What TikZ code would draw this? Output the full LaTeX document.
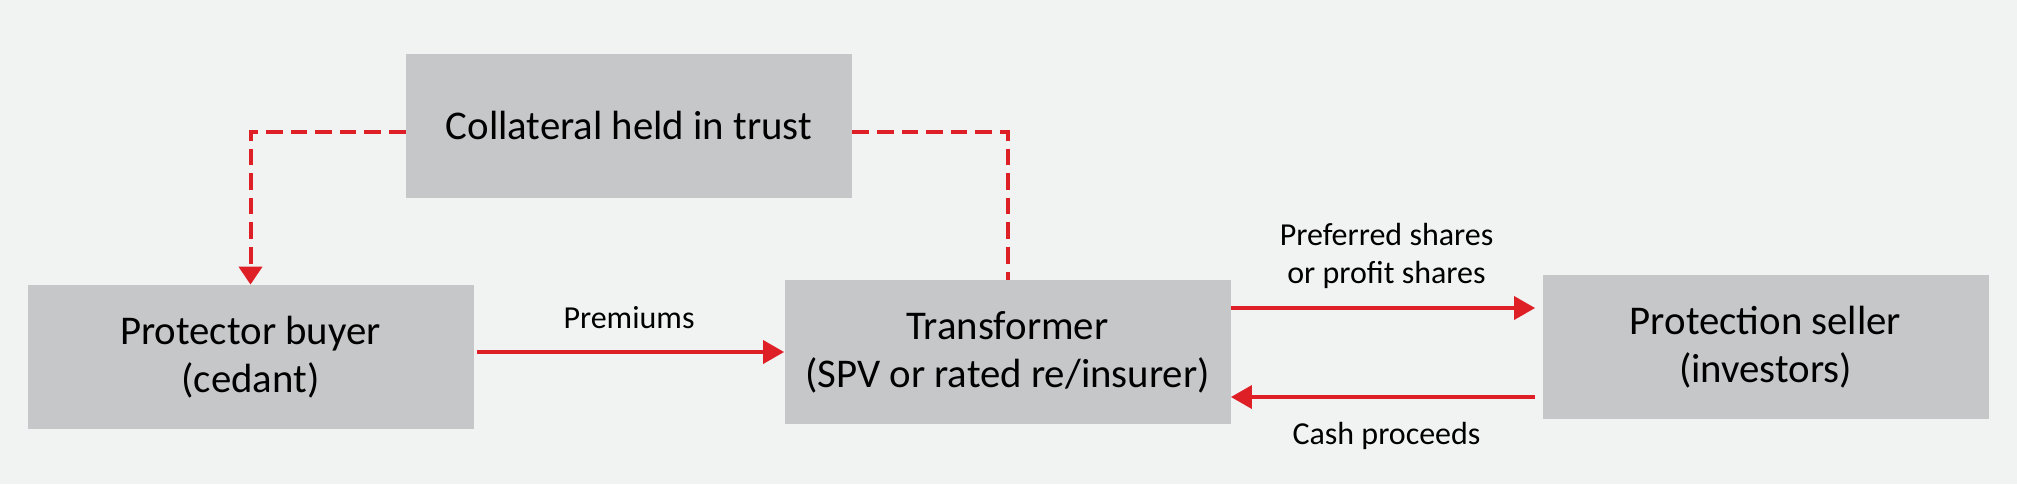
\documentclass[tikz,border=0pt]{standalone}
\usepackage{fontspec}
\setmainfont{Carlito}
\usepackage{tikz}
\usetikzlibrary{arrows.meta}
\definecolor{bggray}{HTML}{F1F2F2}
\definecolor{boxgray}{HTML}{C6C7C8}
\definecolor{flowred}{HTML}{DF1F26}
\tikzset{
  party/.style={fill=boxgray, minimum width=223pt, minimum height=72pt, inner sep=0pt, align=center, font=\fontsize{20.4}{24}\selectfont},
  flow/.style={flowred, line width=1.8pt, -{Triangle[length=10.5pt,width=11.5pt]}},
  trust/.style={flowred, line width=2pt, dash pattern=on 8.3pt off 4pt},
  note/.style={text=black, align=center, inner sep=0pt, font=\fontsize{16}{19}\selectfont}
}

\begin{document}
\begin{tikzpicture}[x=0.5pt, y=-0.5pt]
                \fill [bggray] (0,0) rectangle (2017,484);
                \node [party] (coll) at (629,125.5) {Collateral held in trust};
                \node [party] (buyer) at (250.5,357) {Protector buyer\\(cedant)};
                \node [party] (trans) at (1007.5,352) {Transformer\\(SPV or rated re/insurer)};
                \node [party] (seller) at (1765.5,347) {Protection seller\\(investors)};
                \draw [trust, -{Triangle[length=9pt,width=11.5pt]}] ([yshift=-3pt]coll.west) -| (buyer.north);
                \draw [trust] ([yshift=-3pt]coll.east) -| (trans.north);
                \draw [flow, shorten <=1.5pt] (buyer.east |- trans.west) -- node [note, midway, above=10.5pt] {Premiums} (trans.west);
                \draw [flow, shorten >=3.5pt] ([yshift=22pt]trans.east) -- node [note, midway, above=9pt] {Preferred shares\\or profit shares} ([yshift=22pt]trans.east -| seller.west);
                \draw [flow, shorten <=3.5pt] ([yshift=-22.5pt]trans.east -| seller.west) -- node [note, midway, below=11.5pt] {Cash proceeds} ([yshift=-22.5pt]trans.east);
            \end{tikzpicture}
\end{document}
